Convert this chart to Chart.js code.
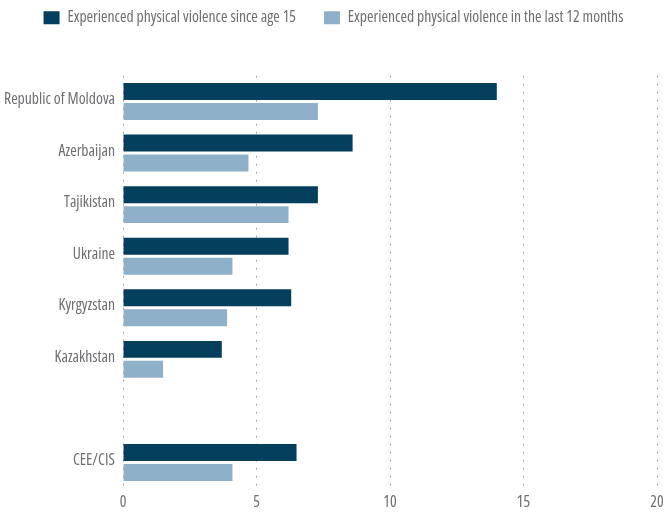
<!DOCTYPE html>
<html>
<head>
<meta charset="utf-8">
<title>Physical violence against women</title>
<script src="https://cdn.jsdelivr.net/npm/chart.js@4/dist/chart.umd.min.js"></script>
<style>
  html, body { margin: 0; padding: 0; background: #fff; }
  #chart { display: block; }
</style>
</head>
<body>
<canvas id="chart" width="665" height="512"></canvas>
<script>
// Countries, with an empty slot before the regional average
const countries = ['Republic of Moldova', 'Azerbaijan', 'Tajikistan', 'Ukraine', 'Kyrgyzstan', 'Kazakhstan', '', 'CEE/CIS'];
const sinceAge15 = [14.0, 8.6, 7.3, 6.2, 6.3, 3.7, null, 6.5];
const last12Months = [7.3, 4.7, 6.2, 4.1, 3.9, 1.5, null, 4.1];
const xTicks = [0, 5, 10, 15, 20];

// chart.js passes weight straight into the canvas font string,
// so 'condensed' here picks the narrow width of Open Sans
const labelFont = { family: '"Open Sans", "Roboto Condensed", sans-serif', size: 15.7, weight: 'condensed' };
const textColor = '#6d6e71';

// lift the legend row up so the wide item padding only spaces it sideways
const legendLift = {
  id: 'legendLift',
  afterLayout(chart) {
    chart.legend.top -= 40;
    chart.legend.bottom -= 40;
    chart.legend.left += 1;
    chart.legend.right += 1;
  }
};

new Chart(document.getElementById('chart'), {
  type: 'bar',
  data: {
    labels: countries,
    datasets: [
      {
        label: 'Experienced physical violence since age 15',
        data: sinceAge15,
        backgroundColor: '#043f5e',
        categoryPercentage: 0.775,
        barPercentage: 0.85
      },
      {
        label: 'Experienced physical violence in the last 12 months',
        data: last12Months,
        backgroundColor: '#8eb1c9',
        categoryPercentage: 0.775,
        barPercentage: 0.85
      }
    ]
  },
  options: {
    indexAxis: 'y',
    responsive: false,
    animation: false,
    layout: { padding: { top: 22, right: 0, bottom: 0, left: 0 } },
    plugins: {
      legend: {
        position: 'top',
        labels: {
          boxWidth: 16,
          boxHeight: 13,
          padding: 28,
          color: textColor,
          font: labelFont
        }
      },
      tooltip: { enabled: false }
    },
    scales: {
      x: {
        min: 0,
        max: 20,
        afterBuildTicks(scale) {
          scale.ticks = xTicks.map(v => ({ value: v }));
        },
        afterFit(scale) {
          scale.height = 23.7;
          scale.paddingLeft = 0;
          scale.paddingRight = 8;
        },
        grid: { color: '#a3a3a3', lineWidth: 1, drawTicks: false },
        border: { display: false, dash: [2, 6] },
        ticks: { color: textColor, font: labelFont, padding: 5 }
      },
      y: {
        afterFit(scale) { scale.width = 123; },
        grid: { display: false, drawTicks: false },
        border: { display: false },
        ticks: { color: textColor, font: labelFont, padding: 8, labelOffset: -2 }
      }
    }
  },
  plugins: [legendLift]
});
</script>
</body>
</html>
